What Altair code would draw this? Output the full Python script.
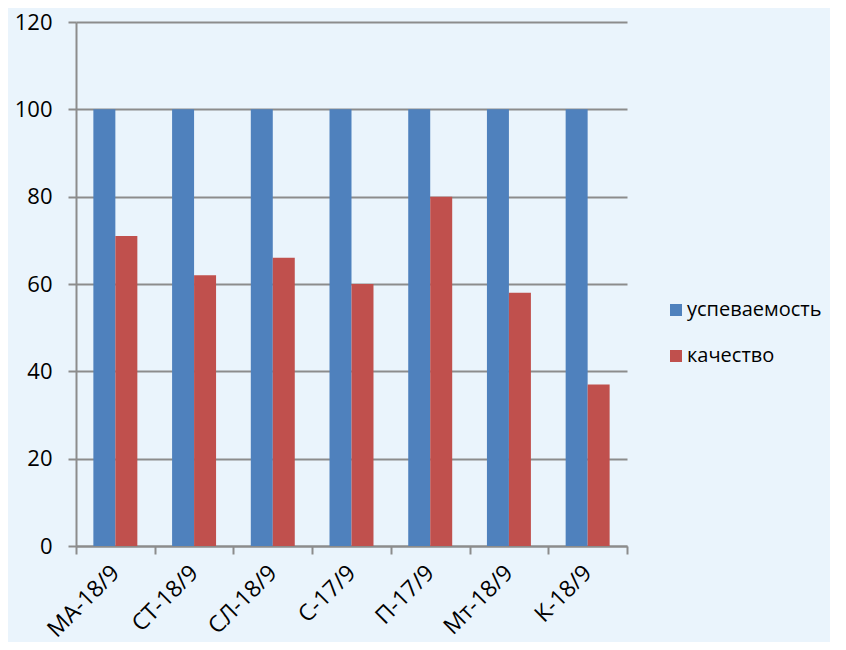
import altair as alt
import pandas as pd

groups = ["МА-18/9", "СТ-18/9", "СЛ-18/9", "С-17/9", "П-17/9", "Мт-18/9", "К-18/9"]
uspevaemost = [100, 100, 100, 100, 100, 100, 100]
kachestvo = [71, 62, 66, 60, 80, 58, 37]
series = ["успеваемость", "качество"]
colors = ["#4f81bd", "#c0504d"]

rows = []
for g, u, k in zip(groups, uspevaemost, kachestvo):
    rows.append({"group": g, "series": series[0], "value": u})
    rows.append({"group": g, "series": series[1], "value": k})
df = pd.DataFrame(rows)

FONT = "Open Sans"

chart = alt.Chart(df).mark_bar().encode(
    x=alt.X("group:N", sort=groups, title=None,
            scale=alt.Scale(paddingInner=0, paddingOuter=0),
            axis=alt.Axis(labelAngle=315, labelAlign="right", labelBaseline="middle",
                          tickBand="extent", ticks=True, tickSize=8, labelPadding=15,
                          domainColor="#8c8c8c", tickColor="#8c8c8c", domainWidth=2, tickWidth=2,
                          labelFontSize=23, labelFont=FONT, labelColor="#000000", grid=False)),
    xOffset=alt.XOffset("series:N", sort=series,
                        scale=alt.Scale(paddingInner=0, paddingOuter=0.79)),
    y=alt.Y("value:Q", title=None,
            scale=alt.Scale(domain=[0, 120]),
            axis=alt.Axis(values=[0, 20, 40, 60, 80, 100, 120], tickSize=8, labelPadding=16,
                          domainColor="#8c8c8c", tickColor="#8c8c8c", domainWidth=2, tickWidth=2,
                          gridColor="#8c8c8c", gridWidth=2, labelFontSize=22, labelFont=FONT,
                          labelColor="#000000")),
    color=alt.Color("series:N", sort=series,
                    scale=alt.Scale(domain=series, range=colors),
                    legend=alt.Legend(title=None, orient="none", legendX=590, legendY=278,
                                      symbolType="square", symbolSize=144, symbolStrokeWidth=0,
                                      labelFontSize=20, labelFont=FONT, labelColor="#000000",
                                      labelLimit=300, rowPadding=26, labelOffset=1, padding=0)),
).properties(
    width=551, height=524,
    padding={"left": 68, "top": 14, "right": 203, "bottom": 96},
    autosize=alt.AutoSizeParams(type="none"),
    background="#eaf4fc",
).configure_view(stroke=None)

chart.save("out.html", embed_options={"renderer": "svg", "actions": False})
